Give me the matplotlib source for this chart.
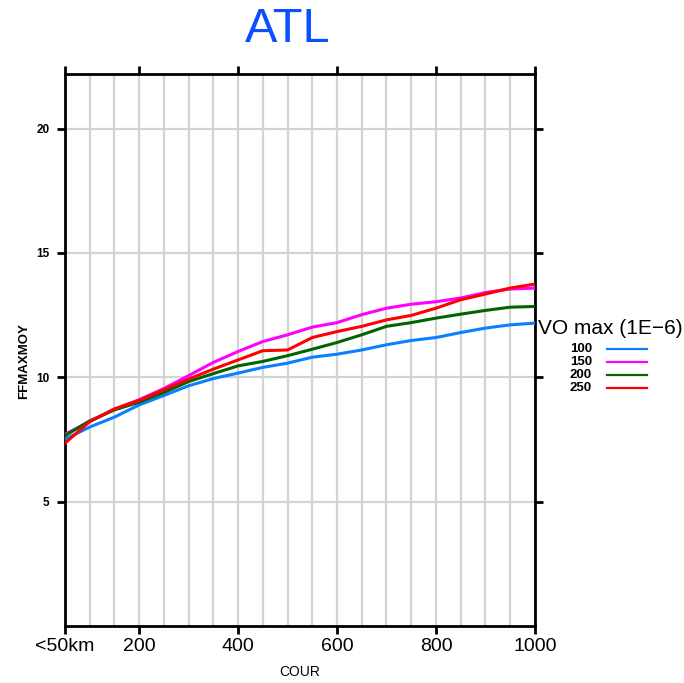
import matplotlib.pyplot as plt
from matplotlib.lines import Line2D

plt.rcParams['font.family'] = ['Liberation Sans', 'DejaVu Sans']

# distance classes (km)
cour = [50, 100, 150, 200, 250, 300, 350, 400, 450, 500,
        550, 600, 650, 700, 750, 800, 850, 900, 950, 1000]

# FFMAXMOY per VO max threshold
vo100 = [7.51, 8.00, 8.40, 8.89, 9.27, 9.66, 9.95, 10.17, 10.40, 10.57,
         10.81, 10.93, 11.10, 11.31, 11.48, 11.60, 11.80, 11.98, 12.11, 12.18]
vo150 = [7.71, 8.22, 8.72, 9.10, 9.55, 10.07, 10.60, 11.04, 11.44, 11.71,
         12.02, 12.20, 12.52, 12.78, 12.94, 13.04, 13.19, 13.41, 13.55, 13.59]
vo200 = [7.65, 8.25, 8.69, 9.00, 9.39, 9.83, 10.15, 10.46, 10.64, 10.87,
         11.13, 11.40, 11.71, 12.05, 12.20, 12.38, 12.54, 12.69, 12.82, 12.85]
vo250 = [7.35, 8.22, 8.73, 9.07, 9.50, 9.93, 10.33, 10.70, 11.07, 11.10,
         11.60, 11.84, 12.05, 12.31, 12.49, 12.78, 13.12, 13.35, 13.59, 13.75]

series = [('100', vo100, '#0a80ff'), ('150', vo150, '#ff00ff'),
          ('200', vo200, '#006400'), ('250', vo250, '#ff0000')]

xticks = [50, 200, 400, 600, 800, 1000]
xticklabels = ['<50km', '200', '400', '600', '800', '1000']
yticks = [5, 10, 15, 20]

fig = plt.figure(figsize=(6.84, 6.83), dpi=100)
ax = fig.add_axes([0.095, 0.0835, 0.687, 0.8082])

# grid
for xv in range(50, 1001, 50):
    ax.axvline(xv, color='#d3d3d3', lw=1.6, zorder=1)
for yv in yticks:
    ax.axhline(yv, color='#d3d3d3', lw=1.6, zorder=1)

for name, vals, col in series:
    ax.plot(cour, vals, color=col, lw=2.2, zorder=3)

ax.set_xlim(50, 1000)
ax.set_ylim(0, 22.2)
ax.set_xticks(xticks)
ax.set_xticklabels(xticklabels, fontsize=14)
ax.set_yticks(yticks)
ax.set_yticklabels([str(v) for v in yticks], fontsize=8.5, fontweight='bold')
ax.tick_params(direction='out', length=6, width=2, top=True, right=True)
ax.tick_params(axis='x', pad=3)
ax.tick_params(axis='y', pad=5)
for s in ax.spines.values():
    s.set_linewidth(2)

ax.set_xlabel('COUR', fontsize=10, labelpad=7)
ax.set_ylabel('FFMAXMOY', fontsize=9.5, fontweight='bold')
ax.yaxis.set_label_coords(-0.075, 0.48)

fig.text(288 / 684, 1 - 29 / 683, 'ATL', color='#0a50ff', fontsize=35,
         ha='center', va='center')

# legend drawn by hand: label left of line
fig.text(538 / 684, 1 - 328 / 683, 'VO max (1E\u22126)', fontsize=15,
         ha='left', va='center')
for i, (name, vals, col) in enumerate(series):
    yy = 1 - (349 + i * 13) / 683
    fig.text(592 / 684, yy, name, fontsize=9.5, fontweight='bold',
             ha='right', va='center')
    fig.add_artist(Line2D([607 / 684, 647 / 684], [yy, yy], color=col, lw=1.6))

plt.savefig('out.png', dpi=100)
